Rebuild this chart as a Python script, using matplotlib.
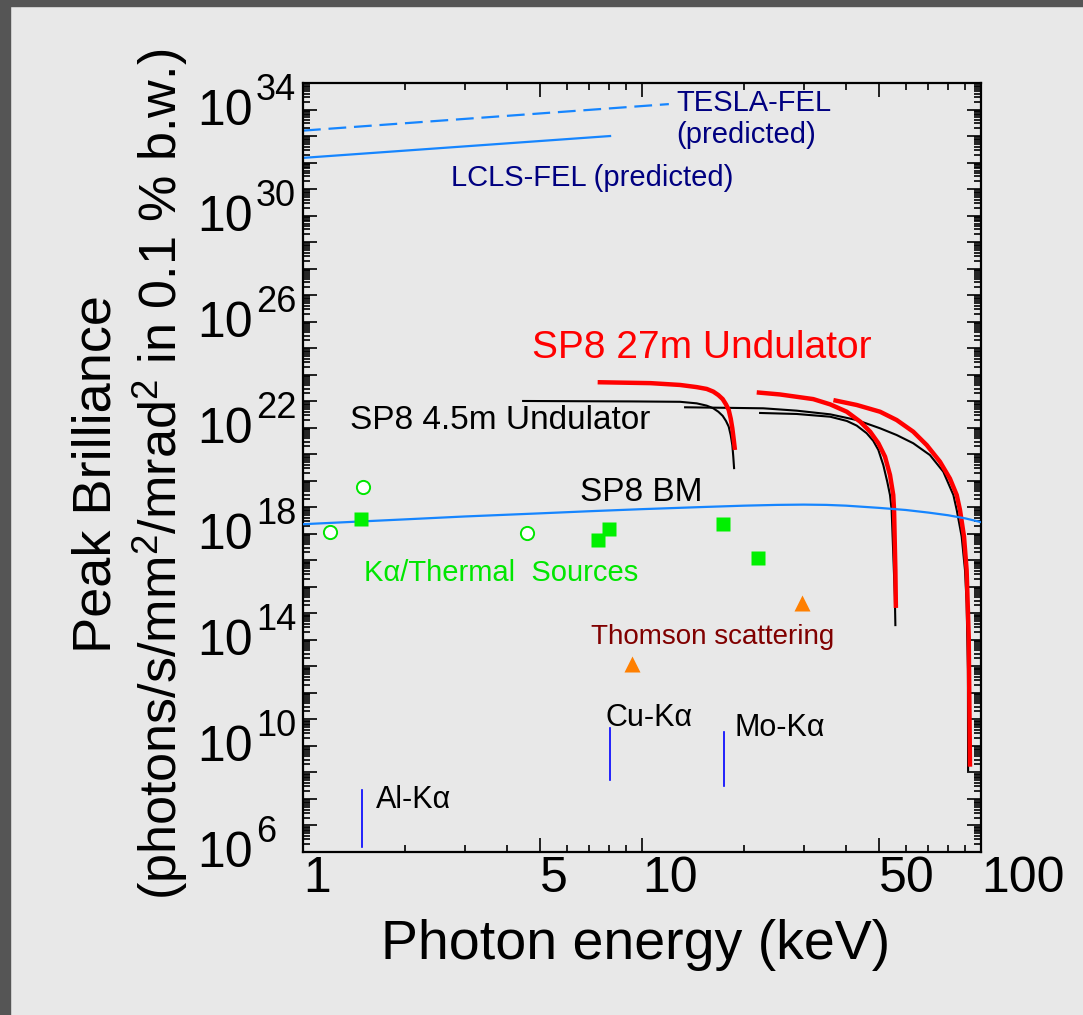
import numpy as np
import matplotlib
matplotlib.use('Agg')
import matplotlib.pyplot as plt
from matplotlib.ticker import FixedLocator, FuncFormatter, NullFormatter
from matplotlib.patches import Rectangle

plt.rcParams['font.family'] = ['Liberation Sans', 'DejaVu Sans']
plt.rcParams['mathtext.fontset'] = 'custom'
plt.rcParams['mathtext.rm'] = 'Liberation Sans'

# ---- data (energy in keV, peak brilliance) ----
tesla_e = [1.0, 12.0]
tesla_b = [1.6e33, 1.6e34]
lcls_e = [1.0, 8.05]
lcls_b = [1.5e32, 1.0e33]

bm_e = [1, 2, 3, 5, 7, 10, 15, 20, 25, 30, 35, 40, 50, 60, 70, 80, 90, 100]
bm_b = [2.3e18, 3.5e18, 4.5e18, 5.9e18, 7.1e18, 8.5e18, 1.02e19, 1.15e19, 1.23e19,
        1.26e19, 1.23e19, 1.15e19, 9.5e18, 7.9e18, 6.3e18, 5.0e18, 3.8e18, 2.75e18]

# SP8 4.5m undulator (black)
und45_a_e = [4.46, 9.4, 12.95, 14.5, 15.52, 16.23, 16.8, 17.3, 17.69, 18.02, 18.27, 18.47, 18.59, 18.69]
und45_a_b = [1.02e23, 9.8e22, 9.5e22, 8.3e22, 6.8e22, 5.4e22, 4.0e22, 2.8e22, 1.8e22, 1.1e22,
             5.2e21, 2.2e21, 8.1e20, 3.0e20]
und45_b_e = [22.3, 28.6, 35.9, 40.2, 43.0, 46.0, 48.1, 49.8, 51.5, 52.9, 53.9, 54.5, 55.1, 55.7, 55.9]
und45_b_b = [3.6e22, 3.3e22, 2.6e22, 1.8e22, 1.2e22, 6.2e21, 3.2e21, 1.45e21, 3.9e20, 9.2e19,
             2.9e19, 7.9e18, 1.8e17, 4.3e15, 3.6e14]
und45_c_e = [13.4, 22.8, 28.6, 35.9, 43.0, 50.4, 56.4, 63.1, 70.7, 77.4, 82.9, 84.8, 87.7, 89.7,
             90.7, 91.5, 91.6]
und45_c_b = [5.9e22, 5.4e22, 4.4e22, 3.2e22, 1.95e22, 9.5e21, 5.3e21, 2.6e21, 9.3e20, 2.2e20,
             2.9e19, 7.9e18, 7.8e17, 4.3e16, 2.4e15, 7.3e12, 1.2e9]

# SP8 27m undulator (red)
und27_a_e = [7.4, 10.6, 12.95, 14.5, 15.52, 16.23, 16.8, 17.3, 17.69, 18.02, 18.27, 18.47, 18.65, 18.8]
und27_a_b = [5.2e23, 4.8e23, 4.1e23, 3.4e23, 2.9e23, 2.3e23, 1.7e23, 1.2e23, 7.6e22, 4.7e22,
             2.2e22, 9.5e21, 3.5e21, 1.45e21]
und27_b_e = [21.8, 25.5, 32.0, 35.9, 40.2, 44.0, 47.1, 49.8, 52.1, 53.9, 55.1, 55.4, 55.9, 56.1]
und27_b_b = [2.15e23, 1.8e23, 1.2e23, 7.6e22, 4.0e22, 1.7e22, 7.1e21, 2.6e21, 8.1e20, 1.65e20,
             2.9e19, 7.9e18, 4.3e16, 1.6e15]
und27_c_e = [36.7, 43.0, 50.4, 56.4, 63.1, 69.2, 75.7, 81.0, 84.8, 86.7, 89.1, 90.7, 92.0, 92.8]
und27_c_b = [1.1e23, 7.2e22, 4.0e22, 1.95e22, 7.1e21, 2.2e21, 5.2e20, 1.2e20, 2.9e19, 7.9e18,
             7.8e17, 4.3e16, 1.3e14, 1.65e9]

# K-alpha / thermal sources
thermal_e = [1.20, 1.50, 4.58]
thermal_b = [1.2e18, 5.8e19, 1.1e18]
kalpha_e = [1.48, 7.42, 8.0, 17.3, 22.0]
kalpha_b = [3.6e18, 5.8e17, 1.5e18, 2.3e18, 1.2e17]
thomson_e = [9.34, 29.6]
thomson_b = [1.2e13, 2.5e15]

# characteristic lines (energy, low, high)
line_names = ['Al-K\u03b1', 'Cu-K\u03b1', 'Mo-K\u03b1']
line_e = [1.49, 8.05, 17.4]
line_lo = [1.5e6, 5.1e8, 3.1e8]
line_hi = [2.2e8, 4.8e10, 3.3e10]
line_text_e = [1.64, 7.78, 18.7]
line_text_b = [9.1e7, 1.1e11, 4.8e10]

x_ticks = [1, 5, 10, 50, 100]
x_minor = [2, 3, 4, 6, 7, 8, 9, 20, 30, 40, 60, 70, 80, 90]
y_decades = list(range(6, 36))
y_labelled = list(range(6, 35, 4))

bg = '#e8e8e8'
fel_blue = '#1585ff'

fig = plt.figure(figsize=(10.83, 10.15), dpi=100, facecolor=bg)
ax = fig.add_axes([303 / 1083, 1 - 852 / 1015, 678 / 1083, 769 / 1015])
ax.set_facecolor('none')
ax.set_xscale('log')
ax.set_yscale('log')
ax.set_xlim(1, 100)
ax.set_ylim(1e6, 1e35)

# dark frame of the slide (left and top)
fig.patches.append(Rectangle((0, 0), 10 / 1083, 1, transform=fig.transFigure, color='#555555', zorder=0))
fig.patches.append(Rectangle((0, 1 - 6 / 1015), 1, 6 / 1015, transform=fig.transFigure, color='#555555', zorder=0))

ax.plot(tesla_e, tesla_b, color=fel_blue, lw=1.6, linestyle=(0, (8, 3.5)))
ax.plot(lcls_e, lcls_b, color=fel_blue, lw=1.6)

for e, b in [(und45_a_e, und45_a_b), (und45_b_e, und45_b_b), (und45_c_e, und45_c_b)]:
    ax.plot(e, b, color='black', lw=1.5, zorder=2)
for e, b in [(und27_a_e, und27_a_b), (und27_b_e, und27_b_b), (und27_c_e, und27_c_b)]:
    ax.plot(e, b, color='#ff0000', lw=3.2, zorder=3, solid_capstyle='butt', solid_joinstyle='round')

ax.plot(bm_e, bm_b, color=fel_blue, lw=1.6, zorder=4)

ax.plot(thermal_e, thermal_b, 'o', ms=9.5, mfc='white', mec='#00e600', mew=1.4, zorder=5)
ax.plot(kalpha_e, kalpha_b, 's', ms=9.5, color='#00f000', mec='none', zorder=5)
ax.plot(thomson_e, thomson_b, '^', ms=11, color='#ff7f00', mec='none', zorder=5)

for e, lo, hi in zip(line_e, line_lo, line_hi):
    ax.plot([e, e], [lo, hi], color='#0000ff', lw=1.2)

# annotations
ax.text(12.6, 1.7e34, 'TESLA-FEL', color='#000080', fontsize=21, va='center')
ax.text(12.6, 1.1e33, '(predicted)', color='#000080', fontsize=21, va='center')
ax.text(2.73, 2.6e31, 'LCLS-FEL (predicted)', color='#000080', fontsize=21, va='center')
ax.text(4.74, 1.0e25, 'SP8 27m Undulator', color='#ff0000', fontsize=28, va='center')
ax.text(1.38, 1.95e22, 'SP8 4.5m Undulator', color='black', fontsize=24, va='center')
ax.text(6.56, 3.7e19, 'SP8 BM', color='black', fontsize=24, va='center')
ax.text(1.51, 3.3e16, 'K\u03b1/Thermal  Sources', color='#00e600', fontsize=21, va='center')
ax.text(7.07, 1.3e14, 'Thomson scattering', color='#800000', fontsize=20, va='center')
for name, te, tb in zip(line_names, line_text_e, line_text_b):
    ax.text(te, tb, name, color='black', fontsize=22, va='center')

# ticks
ax.xaxis.set_major_locator(FixedLocator(x_ticks))
ax.xaxis.set_minor_locator(FixedLocator(x_minor))
ax.xaxis.set_major_formatter(FuncFormatter(lambda v, p: '%g' % v))
ax.xaxis.set_minor_formatter(NullFormatter())

ax.yaxis.set_major_locator(FixedLocator([10.0 ** d for d in y_decades]))
y_minor = [m * 10.0 ** d for d in y_decades[:-1] for m in range(2, 10)]
ax.yaxis.set_minor_locator(FixedLocator(y_minor))
ax.yaxis.set_major_formatter(NullFormatter())
ax.yaxis.set_minor_formatter(NullFormatter())

ax.tick_params(which='both', direction='in', top=True, right=True, width=1.2, color='black')
ax.tick_params(which='major', length=10)
ax.tick_params(which='minor', length=5)
ax.tick_params(axis='x', which='major', pad=3, labelsize=36)
for lab in ax.get_xticklabels():
    lab.set_horizontalalignment('left')

# y tick labels: "10" with a raised exponent
for d in y_labelled:
    ax.annotate('10', xy=(0, 10.0 ** d), xycoords=('axes fraction', 'data'), xytext=(-50, -15),
                textcoords='offset pixels', ha='right', va='baseline', fontsize=36, annotation_clip=False)
    ax.annotate(str(d), xy=(0, 10.0 ** d), xycoords=('axes fraction', 'data'), xytext=(-47, 10),
                textcoords='offset pixels', ha='left', va='baseline', fontsize=26, annotation_clip=False)

for s in ax.spines.values():
    s.set_linewidth(1.6)

fig.text(636 / 1083, 1 - 945 / 1015, 'Photon energy (keV)', fontsize=40, ha='center', va='center')
fig.text(97 / 1083, 1 - 474 / 1015, 'Peak Brilliance', fontsize=39, rotation=90, ha='center', va='center')
fig.text(160 / 1083, 1 - 474 / 1015, r'(photons/s/mm$\mathregular{^2}$/mrad$\mathregular{^2}$ in 0.1 % b.w.)',
         fontsize=37.5, rotation=90, ha='center', va='center')

fig.savefig('out.png', dpi=100, facecolor=bg)
